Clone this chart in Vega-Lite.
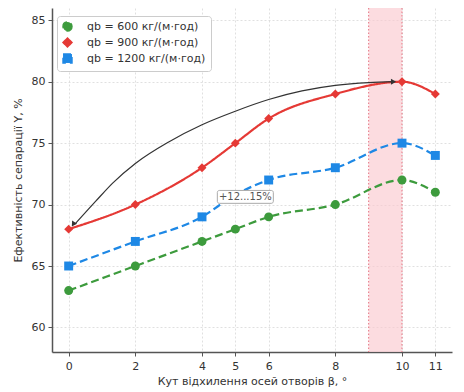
{
  "$schema": "https://vega.github.io/schema/vega-lite/v6.json",
  "width": 400,
  "height": 344,
  "autosize": {"type": "none"},
  "padding": {"left": 52, "top": 8, "right": 12, "bottom": 40},
  "config": {
    "font": "DejaVu Sans",
    "view": {"stroke": null},
    "axis": {
      "domainColor": "#555",
      "domainWidth": 1.5,
      "tickColor": "#555",
      "tickSize": 4,
      "labelFontSize": 11,
      "labelColor": "#333",
      "titleFontSize": 11,
      "titleFontWeight": "normal",
      "titleColor": "#333",
      "gridColor": "#d8d8d8",
      "gridDash": [2, 2],
      "gridWidth": 0.8
    },
    "legend": {
      "strokeColor": "#cccccc",
      "fillColor": "white",
      "padding": 5,
      "cornerRadius": 3,
      "labelFontSize": 11,
      "labelColor": "#333",
      "rowPadding": 1,
      "labelOffset": 14,
      "symbolSize": 80
    }
  },
  "datasets": {
    "series": [
      {"beta": 0, "q": "qb = 600 кг/(м·год)", "Y": 63},
      {"beta": 2, "q": "qb = 600 кг/(м·год)", "Y": 65},
      {"beta": 4, "q": "qb = 600 кг/(м·год)", "Y": 67},
      {"beta": 5, "q": "qb = 600 кг/(м·год)", "Y": 68},
      {"beta": 6, "q": "qb = 600 кг/(м·год)", "Y": 69},
      {"beta": 8, "q": "qb = 600 кг/(м·год)", "Y": 70},
      {"beta": 10, "q": "qb = 600 кг/(м·год)", "Y": 72},
      {"beta": 11, "q": "qb = 600 кг/(м·год)", "Y": 71},
      {"beta": 0, "q": "qb = 900 кг/(м·год)", "Y": 68},
      {"beta": 2, "q": "qb = 900 кг/(м·год)", "Y": 70},
      {"beta": 4, "q": "qb = 900 кг/(м·год)", "Y": 73},
      {"beta": 5, "q": "qb = 900 кг/(м·год)", "Y": 75},
      {"beta": 6, "q": "qb = 900 кг/(м·год)", "Y": 77},
      {"beta": 8, "q": "qb = 900 кг/(м·год)", "Y": 79},
      {"beta": 10, "q": "qb = 900 кг/(м·год)", "Y": 80},
      {"beta": 11, "q": "qb = 900 кг/(м·год)", "Y": 79},
      {"beta": 0, "q": "qb = 1200 кг/(м·год)", "Y": 65},
      {"beta": 2, "q": "qb = 1200 кг/(м·год)", "Y": 67},
      {"beta": 4, "q": "qb = 1200 кг/(м·год)", "Y": 69},
      {"beta": 5, "q": "qb = 1200 кг/(м·год)", "Y": 70.8},
      {"beta": 6, "q": "qb = 1200 кг/(м·год)", "Y": 72},
      {"beta": 8, "q": "qb = 1200 кг/(м·год)", "Y": 73},
      {"beta": 10, "q": "qb = 1200 кг/(м·год)", "Y": 75},
      {"beta": 11, "q": "qb = 1200 кг/(м·год)", "Y": 74}
    ],
    "arrow": [
      {"k": 0, "beta": 0.2, "Y": 68.45},
      {"k": 1, "beta": 0.82, "Y": 70.3},
      {"k": 2, "beta": 1.32, "Y": 71.75},
      {"k": 3, "beta": 2.0, "Y": 73.35},
      {"k": 4, "beta": 3.0, "Y": 75.1},
      {"k": 5, "beta": 4.0, "Y": 76.5},
      {"k": 6, "beta": 5.0, "Y": 77.6},
      {"k": 7, "beta": 6.0, "Y": 78.55},
      {"k": 8, "beta": 7.0, "Y": 79.25},
      {"k": 9, "beta": 8.0, "Y": 79.7},
      {"k": 10, "beta": 9.0, "Y": 79.93},
      {"k": 11, "beta": 9.75, "Y": 80.0}
    ]
  },
  "layer": [
    {
      "data": {"values": [{"b1": 9, "b2": 10}]},
      "mark": {"type": "rect", "fill": "#fbc9cf", "opacity": 0.65},
      "encoding": {
        "x": {"field": "b1", "type": "quantitative", "scale": {"domain": [-0.5, 11.5], "nice": false, "zero": false}},
        "x2": {"field": "b2"}
      }
    },
    {
      "data": {"values": [{"b": 9}, {"b": 10}]},
      "mark": {"type": "rule", "color": "#e57380", "strokeDash": [1.5, 2], "strokeWidth": 1},
      "encoding": {
        "x": {"field": "b", "type": "quantitative"}
      }
    },
    {
      "data": {"name": "series"},
      "mark": {"type": "line", "interpolate": "monotone", "strokeWidth": 2.2},
      "encoding": {
        "x": {
          "field": "beta", "type": "quantitative",
          "scale": {"domain": [-0.5, 11.5], "nice": false, "zero": false},
          "axis": {"values": [0, 2, 4, 5, 6, 8, 10, 11], "title": "Кут відхилення осей отворів β, °", "labelPadding": 4, "titlePadding": 4, "grid": true}
        },
        "y": {
          "field": "Y", "type": "quantitative",
          "scale": {"domain": [58, 86], "nice": false, "zero": false},
          "axis": {"values": [60, 65, 70, 75, 80, 85], "title": "Ефективність сепарації Y, %", "labelPadding": 3, "titlePadding": 8, "grid": true}
        },
        "color": {
          "field": "q", "type": "nominal",
          "scale": {"domain": ["qb = 600 кг/(м·год)", "qb = 900 кг/(м·год)", "qb = 1200 кг/(м·год)"], "range": ["#3d9b3d", "#e53935", "#1e88e5"]},
          "legend": {"title": null, "orient": "none", "legendX": 5, "legendY": 8}
        },
        "strokeDash": {
          "field": "q", "type": "nominal",
          "scale": {"domain": ["qb = 600 кг/(м·год)", "qb = 900 кг/(м·год)", "qb = 1200 кг/(м·год)"], "range": [[8, 4], [1, 0], [8, 4]]},
          "legend": null
        }
      }
    },
    {
      "data": {"name": "series"},
      "mark": {"type": "point", "filled": true, "opacity": 1, "size": 80},
      "encoding": {
        "x": {"field": "beta", "type": "quantitative"},
        "y": {"field": "Y", "type": "quantitative"},
        "color": {"field": "q", "type": "nominal"},
        "shape": {
          "field": "q", "type": "nominal",
          "scale": {"domain": ["qb = 600 кг/(м·год)", "qb = 900 кг/(м·год)", "qb = 1200 кг/(м·год)"], "range": ["circle", "diamond", "square"]},
          "legend": {"title": null, "orient": "none", "legendX": 5, "legendY": 8}
        }
      }
    },
    {
      "data": {"name": "arrow"},
      "mark": {"type": "line", "interpolate": "monotone", "color": "#333", "strokeWidth": 1.2},
      "encoding": {
        "x": {"field": "beta", "type": "quantitative"},
        "y": {"field": "Y", "type": "quantitative"},
        "order": {"field": "k", "type": "quantitative"}
      }
    },
    {
      "data": {"values": [{"beta": 0.15, "Y": 68.45}]},
      "mark": {"type": "point", "shape": "triangle", "filled": true, "color": "#333", "opacity": 1, "size": 35, "angle": 213},
      "encoding": {
        "x": {"field": "beta", "type": "quantitative"},
        "y": {"field": "Y", "type": "quantitative"}
      }
    },
    {
      "data": {"values": [{"beta": 9.72, "Y": 80.0}]},
      "mark": {"type": "point", "shape": "triangle", "filled": true, "color": "#333", "opacity": 1, "size": 35, "angle": 90},
      "encoding": {
        "x": {"field": "beta", "type": "quantitative"},
        "y": {"field": "Y", "type": "quantitative"}
      }
    },
    {
      "data": {"values": [{"b1": 4.46, "b2": 6.14, "y1": 70.1, "y2": 71.15}]},
      "mark": {"type": "rect", "fill": "white", "stroke": "#aaaaaa", "strokeWidth": 1, "cornerRadius": 2},
      "encoding": {
        "x": {"field": "b1", "type": "quantitative"},
        "x2": {"field": "b2"},
        "y": {"field": "y1", "type": "quantitative"},
        "y2": {"field": "y2"}
      }
    },
    {
      "data": {"values": [{"beta": 5.3, "Y": 70.62, "t": "+12...15%"}]},
      "mark": {"type": "text", "fontSize": 10, "color": "#555", "align": "center", "baseline": "middle"},
      "encoding": {
        "x": {"field": "beta", "type": "quantitative"},
        "y": {"field": "Y", "type": "quantitative"},
        "text": {"field": "t"}
      }
    }
  ]
}
